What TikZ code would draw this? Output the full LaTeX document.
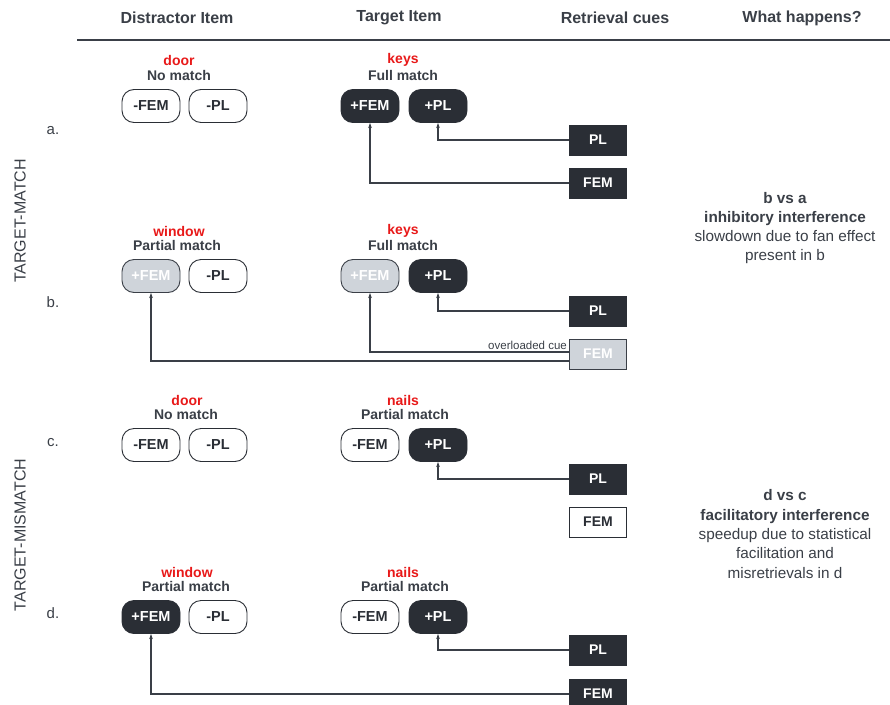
\documentclass[tikz,border=0pt]{standalone}
\usepackage{fontspec}
\setmainfont{Liberation Sans}
\usetikzlibrary{arrows.meta}
\definecolor{ink}{HTML}{3A3F47}
\definecolor{darkfill}{HTML}{2A2E35}
\definecolor{grayfill}{HTML}{CFD4DA}
\definecolor{redtxt}{HTML}{E81919}
\tikzset{
  pill/.style={rounded corners=12pt, minimum width=58pt, minimum height=33pt, inner sep=0pt, line width=0.9pt, font=\bfseries\fontsize{14.5}{16}\selectfont},
  pillw/.style={pill, draw=darkfill, fill=white, text=darkfill},
  pilld/.style={pill, draw=darkfill, fill=darkfill, text=white},
  pillg/.style={pill, draw=ink, fill=grayfill, text=white},
  cue/.style={minimum width=57pt, minimum height=30pt, inner sep=0pt, line width=0.9pt, font=\bfseries\fontsize{14}{16}\selectfont},
  cued/.style={cue, draw=darkfill, fill=darkfill, text=white},
  cueg/.style={cue, draw=ink, fill=grayfill, text=white},
  cuew/.style={cue, draw=darkfill, fill=white, text=darkfill},
  hdr/.style={text=ink, font=\bfseries\fontsize{16}{18}\selectfont},
  word/.style={text=redtxt, font=\bfseries\fontsize{14}{16}\selectfont},
  matchlbl/.style={text=ink, font=\bfseries\fontsize{14}{16}\selectfont},
  rowlbl/.style={text=ink, font=\fontsize{15}{17}\selectfont},
  sidelbl/.style={text=ink, font=\fontsize{16}{18}\selectfont, rotate=90},
  expl/.style={text=ink, align=center, font=\fontsize{15.3}{19.3}\selectfont},
  conn/.style={draw=ink, line width=1.2pt, -{Stealth[length=5pt,width=3.5pt]}},
}
\begin{document}
\begin{tikzpicture}[x=1pt,y=-1pt]
\useasboundingbox (0,0) rectangle (890,704);
% header
\node[hdr] (h1) at (177,18) {Distractor Item};
\node[hdr] (h2) at (399,18) {Target Item};
\node[hdr] (h3) at (615,18) {Retrieval cues};
\node[hdr] (h4) at (802,18) {What happens?};
\coordinate (rl) at (77,40);
\coordinate (rr) at (890,40);
\draw[ink, line width=1.8pt] (rl) -- (rr);

% side labels
\node[sidelbl] (sm) at (20,221) {TARGET-MATCH};
\node[sidelbl] (smm) at (20,535) {TARGET-MISMATCH};
\node[rowlbl] (la) at (53,131) {a.};
\node[rowlbl] (lb) at (53,302) {b.};
\node[rowlbl] (lc) at (53,443) {c.};
\node[rowlbl] (ld) at (53,613) {d.};

% ---- panel a
\node[word] (wda) at (179,60) {door};
\node[matchlbl] (mda) at (179,75) {No match};
\node[pillw] (dFEMa) at (151,106) {-FEM};
\node[pillw] (dPLa) at (218,106) {-PL};
\node[word] (wta) at (403,60) {keys};
\node[matchlbl] (mta) at (403,75) {Full match};
\node[pilld] (tFEMa) at (370,106) {+FEM};
\node[pilld] (tPLa) at (438,106) {+PL};
\node[cued] (cPLa) at (598,140) {PL};
\node[cued] (cFEMa) at (598,183) {FEM};
\draw[conn] (cPLa.west) -| (tPLa.south);
\draw[conn] (cFEMa.west) -| (tFEMa.south);

% ---- panel b
\node[word] (wdb) at (179,231) {window};
\node[matchlbl] (mdb) at (177,245) {Partial match};
\node[pillg] (dFEMb) at (151,276) {+FEM};
\node[pillw] (dPLb) at (218,276) {-PL};
\node[word] (wtb) at (403,231) {keys};
\node[matchlbl] (mtb) at (403,245) {Full match};
\node[pillg] (tFEMb) at (370,276) {+FEM};
\node[pilld] (tPLb) at (438,276) {+PL};
\node[cued] (cPLb) at (598,311) {PL};
\node[cueg] (cFEMb) at (598,354) {FEM};
\draw[conn] (cPLb.west) -| (tPLb.south);
\draw[conn] ([yshift=2pt]cFEMb.west) -| (tFEMb.south);
\draw[conn] ([yshift=-7pt]cFEMb.west) -| (dFEMb.south);
\node[text=ink, anchor=south east, inner sep=1pt, font=\fontsize{11.5}{13}\selectfont] (ovl) at ([xshift=-1pt,yshift=3pt]cFEMb.west) {overloaded cue};

% ---- panel c
\node[word] (wdc) at (187,400) {door};
\node[matchlbl] (mdc) at (186,414) {No match};
\node[pillw] (dFEMc) at (151,445) {-FEM};
\node[pillw] (dPLc) at (218,445) {-PL};
\node[word] (wtc) at (403,400) {nails};
\node[matchlbl] (mtc) at (405,414) {Partial match};
\node[pillw] (tFEMc) at (370,445) {-FEM};
\node[pilld] (tPLc) at (438,445) {+PL};
\node[cued] (cPLc) at (598,479) {PL};
\node[cuew] (cFEMc) at (598,522) {FEM};
\draw[conn] (cPLc.west) -| (tPLc.south);

% ---- panel d
\node[word] (wdd) at (187,572) {window};
\node[matchlbl] (mdd) at (186,586) {Partial match};
\node[pilld] (dFEMd) at (151,617) {+FEM};
\node[pillw] (dPLd) at (218,617) {-PL};
\node[word] (wtd) at (403,572) {nails};
\node[matchlbl] (mtd) at (405,586) {Partial match};
\node[pillw] (tFEMd) at (370,617) {-FEM};
\node[pilld] (tPLd) at (438,617) {+PL};
\node[cued] (cPLd) at (598,650) {PL};
\node[cued] (cFEMd) at (598,694) {FEM};
\draw[conn] (cPLd.west) -| (tPLd.south);
\draw[conn] (cFEMd.west) -| (dFEMd.south);

% ---- explanations
\node[expl] (e1) at (785,228) {\textbf{b vs a}\\\textbf{inhibitory interference}\\slowdown due to fan effect\\present in b};
\node[expl] (e2) at (785,534) {\textbf{d vs c}\\\textbf{facilitatory interference}\\speedup due to statistical\\facilitation and\\misretrievals in d};
\end{tikzpicture}
\end{document}
